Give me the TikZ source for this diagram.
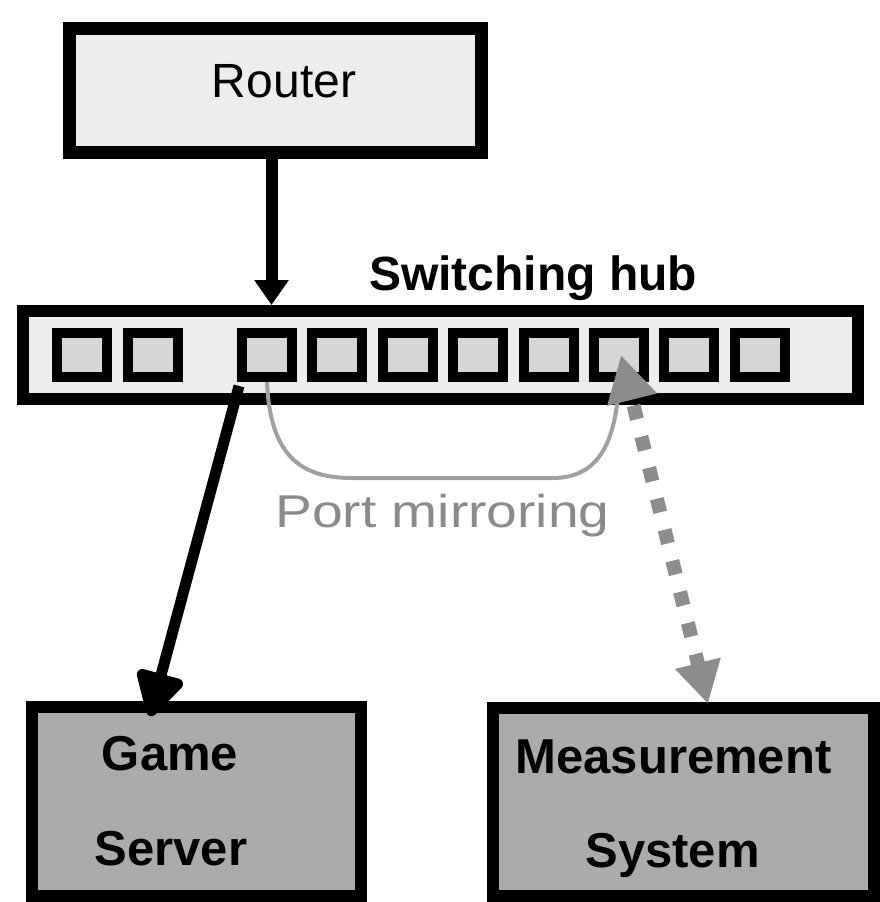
\documentclass[tikz,border=0pt]{standalone}
\usepackage{fontspec}
\setmainfont{Liberation Sans}
\usetikzlibrary{arrows.meta}
\definecolor{lightfill}{HTML}{EDEDED}
\definecolor{portfill}{HTML}{D6D6D6}
\definecolor{darkfill}{HTML}{ABABAB}
\definecolor{mirrorgray}{HTML}{A0A0A0}
\definecolor{dotgray}{HTML}{8C8C8C}
\definecolor{textgray}{HTML}{8A8A8A}
\begin{document}
\begin{tikzpicture}[x=1pt,y=-1pt,
  box/.style={draw=black, rectangle, inner sep=0pt, line width=12pt},
  portbox/.style={draw=black, rectangle, inner sep=0pt, line width=10pt,
    fill=portfill, minimum width=50pt, minimum height=44pt},
  regtext/.style={anchor=base, inner sep=0pt, font=\fontsize{48}{56}\selectfont},
  boldtext/.style={anchor=base, inner sep=0pt, font=\fontsize{49}{58}\selectfont\bfseries},
  blackarrow/.style={draw=black, line width=12pt},
  dotarrow/.style={draw=dotgray, line width=14pt, dash pattern=on 14pt off 18pt, dash phase=23pt}
]
\useasboundingbox (0,0) rectangle (880,902);

% Router
\node[box, line width=13pt, fill=lightfill, minimum width=412pt, minimum height=124pt] (router) at (275.5,90.5) {};
\node[regtext] (trouter) at (284,97) {Router};

% Switching hub
\node[boldtext, font=\fontsize{48}{56}\selectfont\bfseries] (thub) at (533,290) {Switching hub};
\node[box, fill=lightfill, minimum width=835pt, minimum height=88pt] (hub) at (440.5,355) {};
\foreach \i/\x in {1/52,2/123,3/237,4/307,5/378,6/448,7/519,8/589,9/659,10/730}{
  \node[portbox] (p\i) at (\x+30,355) {};
}

% Servers
\node[box, fill=darkfill, minimum width=329pt, minimum height=189pt] (game) at (196.5,801.5) {};
\node[boldtext] (tgame) at (170,770) {Game};
\node[boldtext] (tserver) at (171,865) {Server};
\node[box, fill=darkfill, minimum width=381pt, minimum height=188pt] (meas) at (683.5,802) {};
\node[boldtext] (tmeas) at (673.5,773) {Measurement};
\node[boldtext] (tsys) at (672.5,867) {System};

% Port mirroring curve
\draw[mirrorgray, line width=4pt] (p3.south) .. controls (270,455) and (300,478) .. (352,478)
  -- (553,478) .. controls (600,478) and (616,440) .. (p8.south);
\node[anchor=base, inner sep=0pt, text=textgray] (tmirror) at (442.5,527)
  {\scalebox{1.2}[1]{\fontsize{46}{54}\selectfont Port mirroring}};

% Arrows
\draw[blackarrow, -{Triangle[length=25pt,width=33pt]}] ([xshift=-4pt]router.south) -- ([xshift=-4pt]router.south |- hub.north);
\coordinate (gtip) at (150,716);
\draw[blackarrow, line width=11pt, -{Triangle[length=50pt,width=52pt,round]}] ([shift={(2,4)}]p3.south west) -- (gtip);
\coordinate (uptip) at (621,355);
\coordinate (mtip) at (708,704);
\draw[dotarrow, {Triangle[length=46pt,width=48pt]}-{Triangle[length=42pt,width=44pt]}] (uptip) -- (mtip);
\end{tikzpicture}
\end{document}
